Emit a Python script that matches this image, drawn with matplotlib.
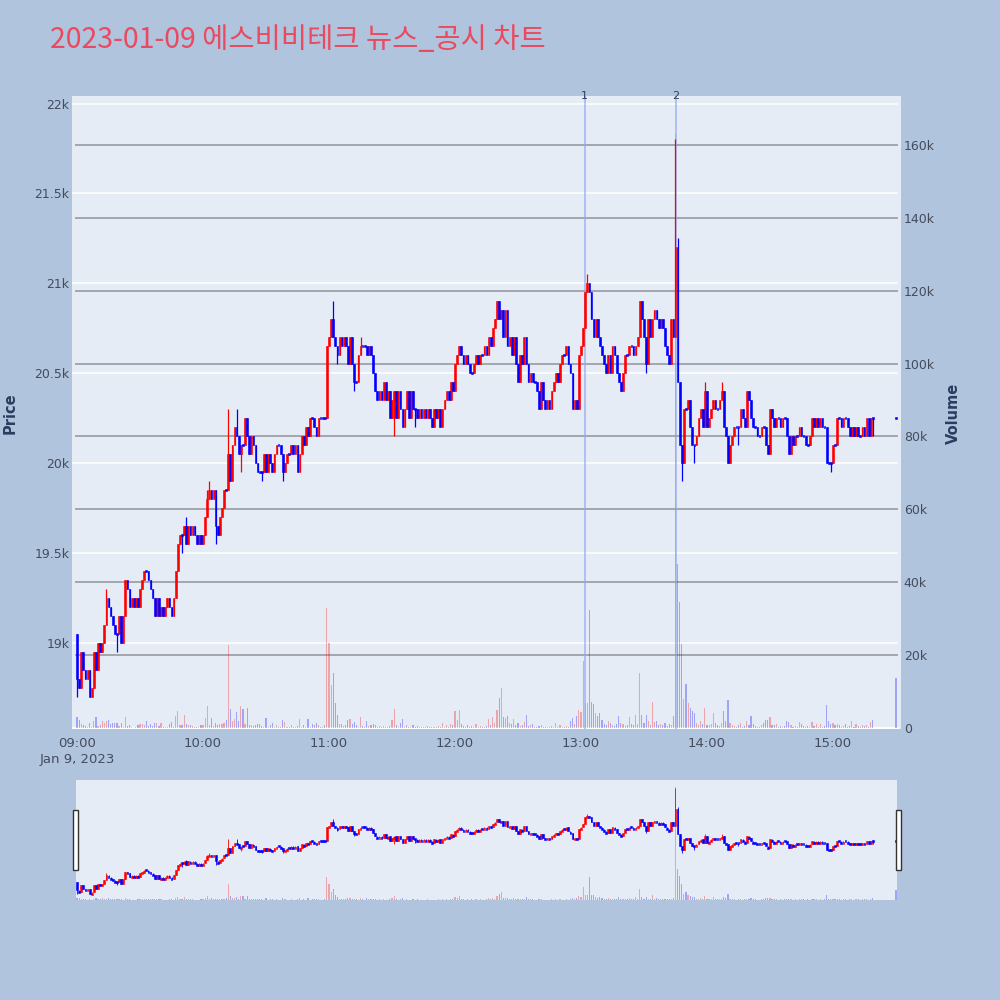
import numpy as np
import matplotlib
matplotlib.use('Agg')
import matplotlib.pyplot as plt
from matplotlib.patches import Rectangle
from matplotlib.ticker import FixedLocator
import matplotlib.transforms as mtransforms

plt.rcParams['font.family'] = ['Noto Sans CJK KR', 'DejaVu Sans']

# ---------------- data (1-minute candles, minute 0 = 09:00) ----------------
first_open = 19050
close_09 = [18800, 18750, 18950, 18850, 18800, 18850, 18700, 18750, 18950, 18850,
            19000, 18950, 19000, 19100, 19250, 19200, 19150, 19100, 19050, 19050,
            19150, 19000, 19150, 19350, 19300, 19200, 19250, 19200, 19250, 19200,
            19300, 19350, 19400, 19400, 19350, 19300, 19250, 19150, 19250, 19150,
            19200, 19150, 19200, 19250, 19200, 19150, 19250, 19400, 19550, 19600,
            19600, 19650, 19550, 19650, 19600, 19650, 19600, 19550, 19600, 19550]
close_10 = [19600, 19700, 19800, 19850, 19800, 19850, 19650, 19600, 19700, 19750,
            19850, 19850, 20050, 19900, 20100, 20200, 20150, 20050, 20100, 20100,
            20250, 20150, 20050, 20150, 20100, 20000, 19950, 19950, 19950, 20050,
            19950, 20050, 20000, 19950, 20050, 20100, 20100, 20050, 19950, 20000,
            20050, 20050, 20100, 20050, 20100, 19950, 20050, 20150, 20100, 20200,
            20150, 20250, 20250, 20200, 20150, 20250, 20250, 20250, 20250, 20650]
close_11 = [20700, 20800, 20700, 20650, 20600, 20700, 20650, 20700, 20650, 20550,
            20700, 20550, 20450, 20450, 20600, 20650, 20650, 20650, 20600, 20650,
            20600, 20500, 20400, 20350, 20400, 20350, 20450, 20350, 20400, 20250,
            20350, 20400, 20250, 20400, 20300, 20200, 20300, 20400, 20250, 20400,
            20300, 20300, 20250, 20300, 20250, 20300, 20250, 20300, 20250, 20200,
            20300, 20250, 20300, 20200, 20300, 20350, 20400, 20350, 20450, 20400]
close_12 = [20550, 20600, 20650, 20600, 20550, 20600, 20550, 20500, 20500, 20550,
            20600, 20550, 20600, 20600, 20650, 20600, 20700, 20650, 20750, 20800,
            20900, 20800, 20850, 20700, 20850, 20650, 20700, 20600, 20700, 20550,
            20450, 20600, 20550, 20700, 20550, 20450, 20500, 20450, 20450, 20400,
            20300, 20450, 20350, 20300, 20350, 20300, 20400, 20450, 20500, 20450,
            20550, 20600, 20600, 20650, 20550, 20500, 20300, 20350, 20300, 20600]
close_13 = [20650, 20750, 20950, 21000, 20950, 20800, 20700, 20800, 20700, 20650,
            20600, 20550, 20500, 20600, 20500, 20650, 20600, 20500, 20450, 20400,
            20500, 20600, 20600, 20650, 20650, 20600, 20650, 20700, 20900, 20800,
            20700, 20550, 20800, 20700, 20800, 20850, 20800, 20750, 20800, 20750,
            20650, 20600, 20550, 20800, 20700, 21200, 20450, 20100, 20000, 20300,
            20300, 20350, 20200, 20100, 20100, 20150, 20250, 20300, 20200, 20400]
close_14 = [20200, 20250, 20300, 20350, 20300, 20300, 20350, 20400, 20200, 20150,
            20000, 20100, 20150, 20200, 20200, 20200, 20300, 20250, 20200, 20400,
            20350, 20250, 20200, 20200, 20150, 20150, 20200, 20200, 20100, 20050,
            20300, 20250, 20200, 20250, 20250, 20200, 20250, 20250, 20150, 20050,
            20150, 20100, 20150, 20150, 20200, 20150, 20150, 20100, 20100, 20150,
            20250, 20200, 20250, 20200, 20250, 20200, 20200, 20000, 20000, 20000]
close_15 = [20100, 20100, 20250, 20250, 20200, 20250, 20250, 20200, 20150, 20200,
            20150, 20200, 20150, 20150, 20200, 20150, 20250, 20150, 20250, 20250,
            None, None, None, None, None, None, None, None, None, None, 20250]

vol_09 = [3100, 2300, 1100, 900, 500, 300, 1500, 400, 1800, 3000,
          600, 800, 2000, 1400, 1800, 2300, 1200, 1300, 1300, 1400,
          500, 1400, 300, 2900, 600, 700, 200, 100, 200, 900,
          1000, 1100, 800, 1800, 500, 1000, 600, 1300, 1400, 500,
          1300, 400, 300, 200, 1200, 1600, 400, 3200, 4700, 900,
          800, 3500, 1200, 900, 800, 600, 300, 400, 200, 800]
vol_10 = [700, 2800, 6100, 900, 2700, 600, 1300, 700, 1100, 1200,
          1300, 2200, 22800, 5300, 2000, 2500, 4500, 1800, 6000, 5300,
          1100, 5500, 900, 700, 600, 800, 1000, 1100, 600, 300,
          2700, 400, 700, 1500, 200, 800, 300, 200, 2300, 1600,
          200, 300, 800, 300, 200, 500, 2500, 400, 700, 400,
          2600, 300, 1100, 900, 1500, 700, 400, 300, 800, 32900]
vol_11 = [23300, 11800, 15200, 6900, 3500, 1000, 1200, 600, 700, 2300,
          2500, 1000, 1600, 700, 300, 3100, 600, 400, 2000, 500,
          700, 1100, 900, 400, 600, 300, 500, 400, 300, 600,
          2300, 5300, 700, 300, 1400, 2500, 300, 700, 400, 300,
          900, 300, 500, 200, 300, 400, 200, 600, 300, 200,
          400, 300, 500, 200, 1400, 300, 700, 200, 1200, 900]
vol_12 = [4600, 2300, 4900, 1200, 600, 400, 700, 300, 500, 400,
          1200, 300, 500, 400, 300, 500, 2500, 700, 3000, 1300,
          5000, 8200, 11000, 3000, 2800, 3200, 1500, 1000, 2600, 900,
          1500, 600, 800, 1600, 3500, 600, 900, 1200, 400, 300,
          500, 800, 300, 400, 200, 300, 500, 200, 1300, 400,
          900, 300, 200, 500, 300, 1800, 2700, 1100, 3200, 5000]
vol_13 = [4500, 18300, 7000, 6800, 32500, 7200, 6600, 4000, 3300, 4000,
          2300, 1200, 800, 2000, 1300, 700, 600, 1000, 3400, 1500,
          1100, 600, 800, 3000, 1000, 700, 3700, 1200, 15000, 3500,
          1400, 3700, 1900, 700, 7200, 1600, 2000, 800, 1200, 900,
          1400, 600, 1100, 700, 3200, 163000, 45000, 34700, 23000, 8000,
          12000, 7000, 5600, 4600, 4000, 1500, 900, 2000, 1200, 5600]
vol_14 = [900, 700, 1100, 4200, 1300, 800, 600, 1500, 4600, 2000,
          7700, 1500, 700, 600, 400, 900, 1400, 300, 600, 1800,
          900, 3200, 1200, 500, 400, 300, 700, 1300, 2300, 2300,
          3000, 900, 700, 1200, 300, 500, 400, 600, 1900, 1700,
          800, 400, 600, 300, 1700, 1100, 500, 300, 600, 400,
          1600, 500, 1200, 400, 1000, 300, 600, 6300, 1800, 1100]
vol_15 = [1300, 700, 1200, 900, 400, 600, 1000, 300, 500, 1800,
          400, 1200, 600, 300, 900, 500, 700, 400, 1600, 2300,
          None, None, None, None, None, None, None, None, None, None, 13700]

# wick extremes beyond the candle body (minute index, price)
wick_hi_min = [14, 52, 62, 63, 72, 76, 122, 135, 243, 285, 286, 299, 307]
wick_hi_val = [19300, 19700, 19850, 19900, 20300, 20300, 20900, 20700, 21050, 21800, 21250, 20450, 20450]
wick_lo_min = [0, 19, 50, 66, 78, 88, 98, 124, 132, 151, 161, 271, 288, 294, 315, 359, 379]
wick_lo_val = [18700, 18950, 19500, 19550, 19950, 19900, 19900, 20550, 20400, 20150, 20200, 20500, 19900, 20000, 20100, 19950, 20150]

news_minutes = [241.7, 285.2]
news_labels = ['1', '2']

x_tick_min = [0, 60, 120, 180, 240, 300, 360]
x_tick_lab = ['09:00\nJan 9, 2023', '10:00', '11:00', '12:00', '13:00', '14:00', '15:00']
price_ticks = [19000, 19500, 20000, 20500, 21000, 21500, 22000]
price_labels = ['19k', '19.5k', '20k', '20.5k', '21k', '21.5k', '22k']
vol_ticks = [0, 20000, 40000, 60000, 80000, 100000, 120000, 140000, 160000]
vol_labels = ['0', '20k', '40k', '60k', '80k', '100k', '120k', '140k', '160k']

title = '2023-01-09 에스비비테크 뉴스_공시 차트'

# ---------------- assemble ----------------
closes_all = close_09 + close_10 + close_11 + close_12 + close_13 + close_14 + close_15
vols_all = vol_09 + vol_10 + vol_11 + vol_12 + vol_13 + vol_14 + vol_15
mins, O, H, L, C, V = [], [], [], [], [], []
prev = first_open
for i, (c, v) in enumerate(zip(closes_all, vols_all)):
    if c is None:
        continue
    mins.append(i); O.append(prev); C.append(c); V.append(v)
    H.append(max(prev, c)); L.append(min(prev, c))
    prev = c
mins = np.array(mins, float); O = np.array(O, float); C = np.array(C, float)
H = np.array(H, float); L = np.array(L, float); V = np.array(V, float)
idx = {int(m): k for k, m in enumerate(mins)}
for m, v in zip(wick_hi_min, wick_hi_val):
    H[idx[m]] = max(H[idx[m]], v)
for m, v in zip(wick_lo_min, wick_lo_val):
    L[idx[m]] = min(L[idx[m]], v)
up = C > O
dn = ~up

RED = '#FF0000'
BLUE = '#0000FF'
BG = '#B0C4DE'
PLOT_BG = '#E5ECF6'
TXT = '#2A3F5F'
TICK = '#444C5C'

P_LIM = (18520, 22042)
V_LIM = (-270, 173400)
X_LIM = (-2.4, 392.4)


def draw(axv, axp, body_w, wick_lw, min_h, vol_w):
    # volume
    axv.bar(mins[up], V[up], width=vol_w, color=RED, alpha=0.3, linewidth=0, zorder=2)
    axv.bar(mins[dn], V[dn], width=vol_w, color=BLUE, alpha=0.3, linewidth=0, zorder=2)
    # candles
    for mask, col in ((up, RED), (dn, BLUE)):
        axp.vlines(mins[mask], L[mask], H[mask], color=col, lw=wick_lw, zorder=3)
        lo = np.minimum(O[mask], C[mask])
        hgt = np.abs(C[mask] - O[mask])
        flat = hgt < min_h
        lo = np.where(flat, lo - min_h / 2, lo)
        hgt = np.maximum(hgt, min_h)
        axp.bar(mins[mask], hgt, bottom=lo, width=body_w, color=col,
                edgecolor=col, linewidth=0.4, zorder=4)


fig = plt.figure(figsize=(10, 10), dpi=100, facecolor=BG)

# ---------------- main chart ----------------
ax = fig.add_axes([0.072, 0.271, 0.829, 0.633])   # volume axis (drawn first)
ax.set_facecolor(PLOT_BG)
ax2 = ax.twinx()                                   # price axis
ax2.patch.set_visible(False)

ax.set_xlim(*X_LIM)
ax.set_ylim(*V_LIM)
ax2.set_ylim(*P_LIM)

for a in (ax, ax2):
    for s in a.spines.values():
        s.set_visible(False)

# price grid (white) drawn beneath volume bars
blend = mtransforms.blended_transform_factory(ax.transAxes, ax2.transData)
for p in price_ticks:
    ax.plot([0, 0.995], [p, p], transform=blend, color='white', lw=1.1, zorder=0.5)
# volume grid (gray)
for v in vol_ticks[1:]:
    ax.plot([0.005, 0.995], [v, v], transform=ax.get_yaxis_transform(),
            color='#A3A6AC', lw=1.4, zorder=0.6)
ax.plot([0, 0.995], [0, 0], transform=ax.get_yaxis_transform(), color='white', lw=2, zorder=0.7)

draw(ax, ax2, 0.82, 0.9, 12, 0.55)

# news lines
for m, lab in zip(news_minutes, news_labels):
    ax2.axvline(m, color='#8FA6EE', lw=1.1, alpha=0.8, zorder=2.5)
    ax2.text(m, 1.0, lab, transform=mtransforms.blended_transform_factory(ax2.transData, ax2.transAxes),
             ha='center', va='center', fontsize=8, color=TXT, family=['DejaVu Sans'])

# ticks
ax.xaxis.set_major_locator(FixedLocator(x_tick_min))
ax.set_xticklabels(x_tick_lab, fontsize=9.5, color=TICK, linespacing=1.25,
                   family=['DejaVu Sans'])
ax.tick_params(axis='x', length=0, pad=6)

ax.yaxis.tick_right()
ax.yaxis.set_major_locator(FixedLocator(vol_ticks))
ax.set_yticklabels(vol_labels, fontsize=9, color=TICK, family=['DejaVu Sans'])
ax.tick_params(axis='y', length=0, pad=2)

ax2.yaxis.tick_left()
ax2.yaxis.set_major_locator(FixedLocator(price_ticks))
ax2.set_yticklabels(price_labels, fontsize=9, color=TICK, family=['DejaVu Sans'])
ax2.tick_params(axis='y', length=0, pad=2)

fig.text(0.010, 0.587, 'Price', rotation=90, ha='center', va='center',
         fontsize=10.5, fontweight='bold', color=TXT, family=['DejaVu Sans'])
fig.text(0.953, 0.587, 'Volume', rotation=90, ha='center', va='center',
         fontsize=10.5, fontweight='bold', color=TXT, family=['DejaVu Sans'])

fig.text(0.050, 0.960, title, ha='left', va='center', fontsize=20.5, color='#EA4A5F')

# ---------------- range slider ----------------
axs = fig.add_axes([0.076, 0.100, 0.821, 0.120])
axs.set_facecolor(PLOT_BG)
axs2 = axs.twinx()
axs2.patch.set_visible(False)
axs.set_xlim(-0.5, 390.5)
axs.set_ylim(*V_LIM)
axs2.set_ylim(*P_LIM)
for a in (axs, axs2):
    a.set_xticks([]); a.set_yticks([])
    for s in a.spines.values():
        s.set_visible(False)
draw(axs, axs2, 0.85, 0.6, 60, 0.55)

for xh in (0.073, 0.896):
    fig.patches.append(Rectangle((xh, 0.130), 0.0045, 0.060, transform=fig.transFigure,
                                 facecolor='white', edgecolor='#333333', lw=1.0))

fig.savefig('out.png', dpi=100, facecolor=fig.get_facecolor())
